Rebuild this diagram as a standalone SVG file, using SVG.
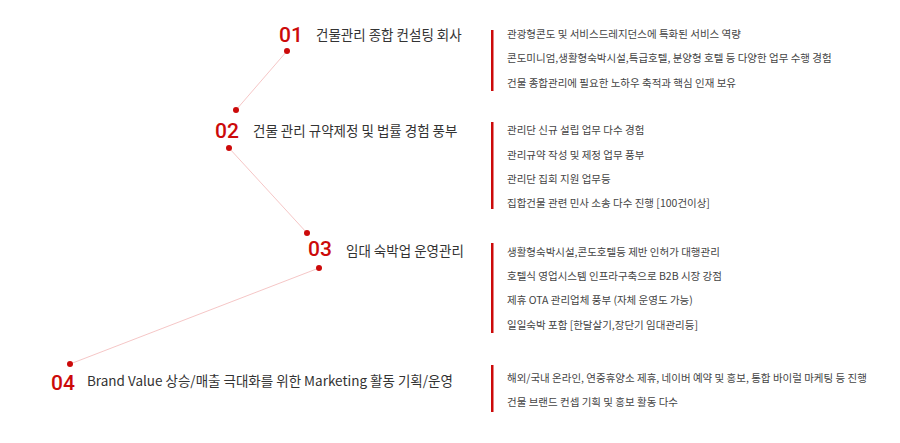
<svg xmlns="http://www.w3.org/2000/svg" width="900" height="443" viewBox="0 0 900 443">
<style>
.n{font-family:"Roboto","Liberation Sans",sans-serif;font-size:21px;fill:#cc0a0a;font-weight:500}
.t{font-family:"Noto Sans CJK KR","Noto Sans",sans-serif;font-size:13.5px;fill:#333}
.d{font-family:"Noto Sans CJK KR","Noto Sans",sans-serif;font-size:10.5px;fill:#444}
.bar{fill:#cc0a0a}
.dot{fill:#cc0a0a}
</style>
<rect width="900" height="443" fill="#fff"/>
<g id="connectors" stroke="#f2b8b8" stroke-width="0.8">
<line x1="287" y1="51" x2="236" y2="110"/>
<line x1="229" y1="148" x2="307" y2="233"/>
<line x1="319" y1="268" x2="70" y2="364"/>
</g>
<g id="node1">
<circle class="dot" cx="287" cy="51" r="3"/><circle class="dot" cx="236" cy="110" r="3"/>
<text class="n" x="279" y="42">01</text>
<text class="t" x="316" y="40">건물관리 종합 컨설팅 회사</text>
<rect class="bar" x="491" y="30" width="2.5" height="61"/>
<text class="d" x="507" y="38">관광형콘도 및 서비스드레지던스에 특화된 서비스 역량</text>
<text class="d" x="507" y="62">콘도미니엄,생활형숙박시설,특급호텔, 분양형 호텔 등 다양한 업무 수행 경험</text>
<text class="d" x="507" y="87">건물 종합관리에 필요한  노하우 축적과 핵심 인재 보유</text>
</g>
<g id="node2">
<circle class="dot" cx="229" cy="148" r="3"/><circle class="dot" cx="307" cy="233" r="3"/>
<text class="n" x="215" y="138">02</text>
<text class="t" x="253" y="136">건물 관리 규약제정 및 법률 경험 풍부</text>
<rect class="bar" x="491" y="122" width="2.5" height="87"/>
<text class="d" x="507" y="134">관리단 신규 설립 업무 다수 경험</text>
<text class="d" x="507" y="159">관리규약 작성 및 제정 업무 풍부</text>
<text class="d" x="507" y="183">관리단 집회 지원 업무등</text>
<text class="d" x="507" y="207">집합건물 관련 민사 소송 다수 진행 [100건이상]</text>
</g>
<g id="node3">
<circle class="dot" cx="319" cy="268" r="3"/>
<text class="n" x="308" y="256">03</text>
<text class="t" x="346" y="256">임대 숙박업 운영관리</text>
<rect class="bar" x="491" y="243" width="2.5" height="90"/>
<text class="d" x="507" y="256">생활형숙박시설,콘도호텔등 제반 인허가 대행관리</text>
<text class="d" x="507" y="280">호텔식 영업시스템 인프라구축으로 B2B 시장 강점</text>
<text class="d" x="507" y="304">제휴 OTA 관리업체 풍부 (자체 운영도 가능)</text>
<text class="d" x="507" y="329">일일숙박 포함 [한달살기,장단기 임대관리등]</text>
</g>
<g id="node4">
<circle class="dot" cx="70" cy="364" r="3"/>
<text class="n" x="51" y="390">04</text>
<text class="t" x="87" y="386">Brand Value 상승/매출 극대화를 위한 Marketing 활동 기획/운영</text>
<rect class="bar" x="491" y="365" width="2.5" height="47"/>
<text class="d" x="507" y="382">해외/국내 온라인, 연중휴양소 제휴, 네이버 예약 및 홍보, 통합 바이럴 마케팅 등 진행</text>
<text class="d" x="507" y="406">건물 브랜드 컨셉 기획 및 홍보 활동 다수</text>
</g>
</svg>
